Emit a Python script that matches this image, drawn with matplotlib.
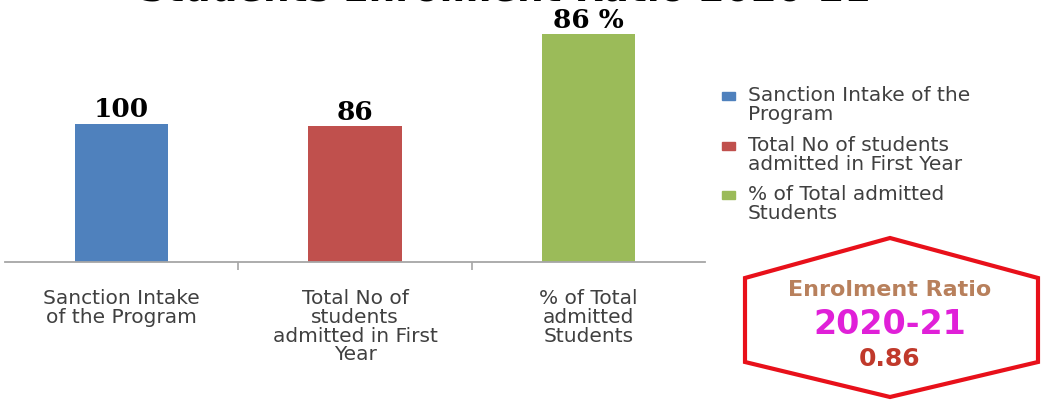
import matplotlib
matplotlib.use("Agg")
from matplotlib import pyplot as plt
from matplotlib.patches import Polygon, Rectangle

# data
categories = ["Sanction Intake\nof the Program",
              "Total No of\nstudents\nadmitted in First\nYear",
              "% of Total\nadmitted\nStudents"]
legend_labels = ["Sanction Intake of the\nProgram",
                 "Total No of students\nadmitted in First Year",
                 "% of Total admitted\nStudents"]
bar_heights = [100, 98, 165]
value_labels = ["100", "86", "86 %"]
colors = ["#4f81bd", "#c0504d", "#9bbb59"]
title = "Students Enrolment Ratio 2020-21"
box_title = "Enrolment Ratio"
box_year = "2020-21"
box_ratio = "0.86"

W, H = 1058, 402
fig = plt.figure(figsize=(W / 100, H / 100), dpi=100)
fig.patch.set_facecolor("white")

ax = fig.add_axes([5 / W, 1 - 263 / H, 700 / W, 263 / H])
x = list(range(len(categories)))
bars = ax.bar(x, bar_heights, width=0.4, color=colors, zorder=2)
ax.set_xlim(-0.5, 2.5)
ax.set_ylim(0, 190)

for b, lab in zip(bars, value_labels):
	ax.annotate(lab, (b.get_x() + b.get_width() / 2, b.get_height()),
		xytext=(0, 10.5), textcoords="offset points", ha="center", va="center",
		fontsize=19, fontweight="bold", family="DejaVu Serif", color="black")

for s in ["top", "left", "right"]:
	ax.spines[s].set_visible(False)
ax.spines["bottom"].set_color("#a6a6a6")
ax.spines["bottom"].set_linewidth(1.3)
ax.set_yticks([])
ax.set_xticks(x)
ax.set_xticklabels(categories, fontsize=14.5, color="#404040", linespacing=0.98)
ax.tick_params(axis="x", which="major", length=0, pad=19)
ax.set_xticks([0.5, 1.5], minor=True)
ax.tick_params(axis="x", which="minor", length=6, width=1.2, color="#a6a6a6", direction="out")

# overlay in pixel coordinates for title, legend and hexagon badge
ov = fig.add_axes([0, 0, 1, 1])
ov.set_xlim(0, W)
ov.set_ylim(H, 0)
ov.axis("off")

ov.text(505, 0.5, title, ha="center", va="baseline", fontsize=27, fontweight="bold", color="black")

leg_y = [97, 147, 196]
for yy, c, lab in zip(leg_y, colors, legend_labels):
	ov.add_patch(Rectangle((722, yy - 4), 13, 8, color=c))
	ov.text(748, yy - 11, lab, ha="left", va="top", fontsize=14.5, color="#404040", linespacing=1.0)

hexagon = Polygon([(890, 239), (1038, 279), (1038, 363), (890, 398), (745, 363), (745, 279)],
	closed=True, fill=False, edgecolor="#e8101a", linewidth=3)
ov.add_patch(hexagon)
ov.text(890, 290, box_title, ha="center", va="center", fontsize=16, fontweight="bold", color="#b8805c")
ov.text(890, 325, box_year, ha="center", va="center", fontsize=24, fontweight="bold", color="#e020d8")
ov.text(890, 359, box_ratio, ha="center", va="center", fontsize=18, fontweight="bold", color="#c0392b")

fig.savefig("out.png", dpi=100)
